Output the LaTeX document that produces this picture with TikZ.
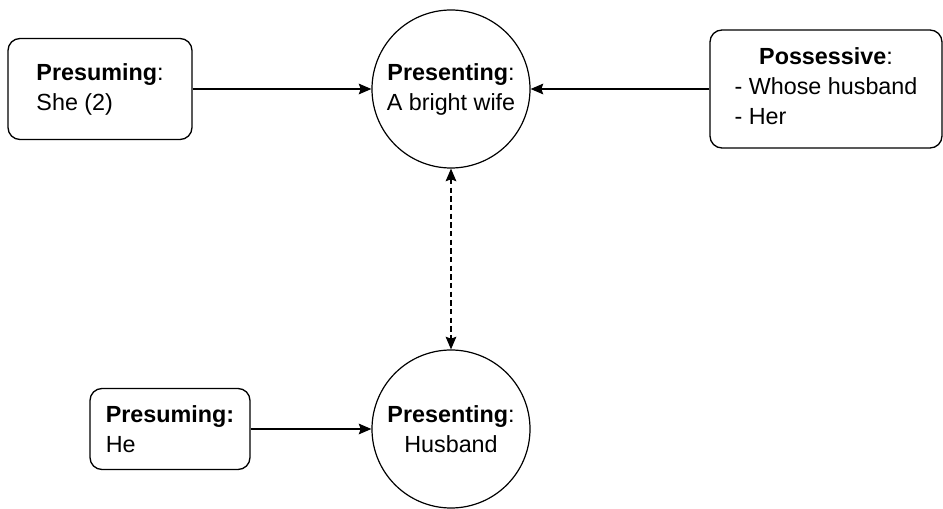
\documentclass[tikz,border=0pt]{standalone}
\usepackage{fontspec}
\setmainfont{Liberation Sans}
\usetikzlibrary{arrows.meta}
\begin{document}
\begin{tikzpicture}[x=0.75pt,y=-0.75pt,
  every node/.style={font=\fontsize{17.5}{22.5}\selectfont},
  roundbox/.style={draw=black,line width=1pt,rounded corners=9pt,align=left,inner sep=0pt},
  topic/.style={draw=black,line width=0.9pt,circle,minimum size=118.5pt,align=center,inner sep=0pt},
  tip/.style={Stealth[length=9.5pt,width=8pt,inset=1.5pt]},
  arr/.style={line width=1.1pt,-{Stealth[length=9.5pt,width=8pt,inset=1.5pt]}},
  darr/.style={line width=1.1pt,dash pattern=on 4pt off 2.5pt,
    {Stealth[length=9.5pt,width=8pt,inset=1.5pt]}-{Stealth[length=9.5pt,width=8pt,inset=1.5pt]}}]
  \fill[white] (0,0) rectangle (943,509);
  \useasboundingbox (0,0) rectangle (943,509);

  % circles carrying the presented topics
  \node[topic] (tw) at (451,89) {\textbf{Presenting}:\\A bright wife};
  \node[topic] (bh) at (451,429) {\textbf{Presenting}:\\Husband};

  % boxes with the presuming and possessive references
  \node[roundbox,minimum width=138pt,minimum height=75.75pt] (pshe) at (100,89)
    {\textbf{Presuming}:\\She (2)};
  \node[roundbox,minimum width=174pt,minimum height=88.5pt] (poss) at (826,89)
    {\begin{tabular}{@{}l@{}}\multicolumn{1}{@{}c@{}}{\textbf{Possessive}:}\\- Whose husband\\- Her\end{tabular}};
  \node[roundbox,minimum width=120pt,minimum height=60.75pt] (phe) at (170,429)
    {\textbf{Presuming:}\\He};

  % connectors
  \draw[arr] (pshe.east) -- (tw.west);
  \draw[arr] (poss.west) -- (tw.east);
  \draw[arr] (phe.east) -- (bh.west);
  \draw[darr] (tw.south) -- (bh.north);
\end{tikzpicture}
\end{document}
